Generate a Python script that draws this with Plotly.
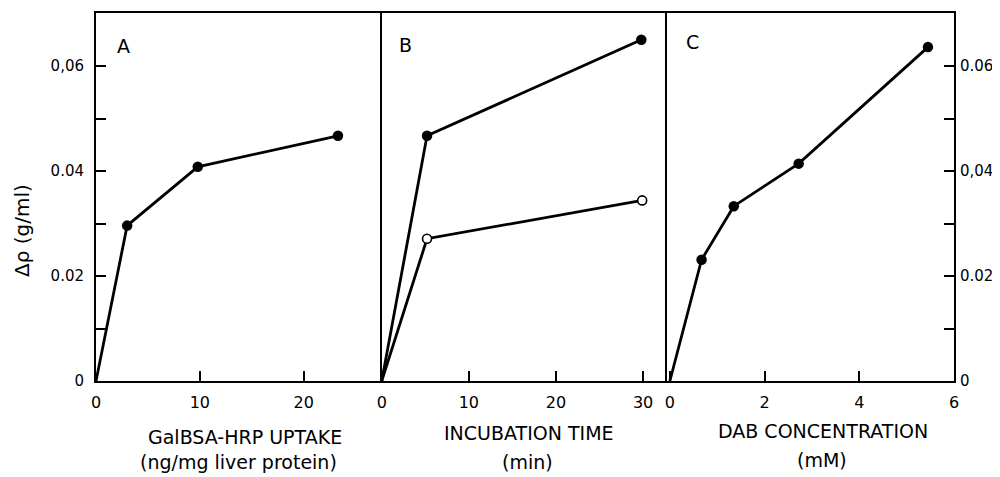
import plotly.graph_objects as go

# ---- data ----
a_x = [0, 3.0, 9.8, 23.3]
a_y = [0, 0.0296, 0.0408, 0.0467]

b_x_filled = [0, 5.2, 29.8]
b_y_filled = [0, 0.0467, 0.0650]
b_x_open = [0, 5.2, 29.9]
b_y_open = [0, 0.0271, 0.0344]

c_x = [0, 0.67, 1.35, 2.72, 5.45]
c_y = [0, 0.0231, 0.0333, 0.0414, 0.0636]

y_tickvals = [0, 0.01, 0.02, 0.03, 0.04, 0.05, 0.06]
y_ticktext_left = ["0", "", "0.02", "", "0.04", "", "0,06"]
y_ticktext_right = ["0", "", "0.02", "", "0,04", "", "0.06"]

a_xticks = [0, 10, 20]
b_xticks = [0, 10, 20, 30]
c_xticks = [0, 2, 4, 6]

FONT = "DejaVu Sans"
W, H = 1000, 477
OFF = 8  # page body margin offset


def px(x):
    return (x - OFF) / W


def py(y):
    return 1 - (y - OFF) / H


fig = go.Figure()
line = dict(color="black", width=2.8)
filled = dict(size=10.5, color="black")
hollow = dict(size=9, color="white", line=dict(color="black", width=1.6))

fig.add_trace(go.Scatter(x=a_x, y=a_y, mode="lines", line=line, xaxis="x", yaxis="y"))
fig.add_trace(go.Scatter(x=a_x[1:], y=a_y[1:], mode="markers", marker=filled, xaxis="x", yaxis="y"))

fig.add_trace(go.Scatter(x=b_x_filled, y=b_y_filled, mode="lines", line=line, xaxis="x2", yaxis="y2"))
fig.add_trace(go.Scatter(x=b_x_filled[1:], y=b_y_filled[1:], mode="markers", marker=filled, xaxis="x2", yaxis="y2"))
fig.add_trace(go.Scatter(x=b_x_open, y=b_y_open, mode="lines", line=line, xaxis="x2", yaxis="y2"))
fig.add_trace(go.Scatter(x=b_x_open[1:], y=b_y_open[1:], mode="markers", marker=hollow, xaxis="x2", yaxis="y2"))

fig.add_trace(go.Scatter(x=c_x, y=c_y, mode="lines", line=line, xaxis="x3", yaxis="y3"))
fig.add_trace(go.Scatter(x=c_x[1:], y=c_y[1:], mode="markers", marker=filled, xaxis="x3", yaxis="y3"))

y_dom = [py(381), py(13)]
y_range = [0, 368 / 105 * 0.02]

common_axis = dict(showline=True, linecolor="black", linewidth=2, mirror=True, showgrid=False,
                   zeroline=False, ticks="inside", ticklen=10, tickwidth=2, tickcolor="black",
                   automargin=False, tickfont=dict(family=FONT, size=16, color="black"))
ytickfont = dict(family=FONT, size=15, color="black")

fig.update_layout(
    template="none",
    showlegend=False,
    width=W, height=H, margin=dict(l=0, r=0, t=0, b=0, pad=0),
    paper_bgcolor="white", plot_bgcolor="white",
    xaxis=dict(common_axis, domain=[px(96), px(380)], range=[0, 27.35], anchor="y",
               tickvals=a_xticks, ticktext=[str(v) for v in a_xticks], ticklabelstandoff=6),
    yaxis=dict(common_axis, domain=y_dom, range=y_range, anchor="x", side="left",
               tickvals=y_tickvals, ticktext=y_ticktext_left, ticklabelstandoff=7, tickfont=ytickfont),
    xaxis2=dict(common_axis, domain=[px(380), px(667)], range=[-0.2, 32.75], anchor="y2",
                tickvals=b_xticks, ticktext=[str(v) for v in b_xticks], ticklabelstandoff=6),
    yaxis2=dict(common_axis, domain=y_dom, range=y_range, anchor="x2",
                showline=False, mirror=False, ticks="", showticklabels=False),
    xaxis3=dict(common_axis, domain=[px(667), px(954)], range=[-0.06, 6], anchor="y3",
                tickvals=c_xticks, ticktext=[str(v) for v in c_xticks], ticklabelstandoff=6),
    yaxis3=dict(common_axis, domain=y_dom, range=y_range, anchor="x3", side="right",
                tickvals=y_tickvals, ticktext=y_ticktext_right, ticklabelstandoff=1, tickfont=ytickfont),
)

ann_font = dict(family=FONT, size=19, color="black")
label_font = dict(family=FONT, size=19, color="black")
annotations = [
    dict(text="A", x=px(123), y=py(46), font=label_font),
    dict(text="B", x=px(405), y=py(45), font=label_font),
    dict(text="C", x=px(692), y=py(42), font=label_font),
    dict(text="GalBSA-HRP UPTAKE", x=px(245), y=py(437), font=ann_font),
    dict(text="(ng/mg liver protein)", x=px(238), y=py(462), font=ann_font),
    dict(text="INCUBATION TIME", x=px(529), y=py(433), font=ann_font),
    dict(text="(min)", x=px(527), y=py(462), font=ann_font),
    dict(text="DAB CONCENTRATION", x=px(823), y=py(431), font=ann_font),
    dict(text="(mM)", x=px(822), y=py(460), font=ann_font),
    dict(text="Δρ (g/ml)", x=px(22), y=py(231), textangle=-90, font=dict(family=FONT, size=20, color="black")),
]
for a in annotations:
    a.update(xref="paper", yref="paper", showarrow=False, xanchor="center", yanchor="middle")
fig.update_layout(annotations=annotations)

fig.write_html("out.html")
